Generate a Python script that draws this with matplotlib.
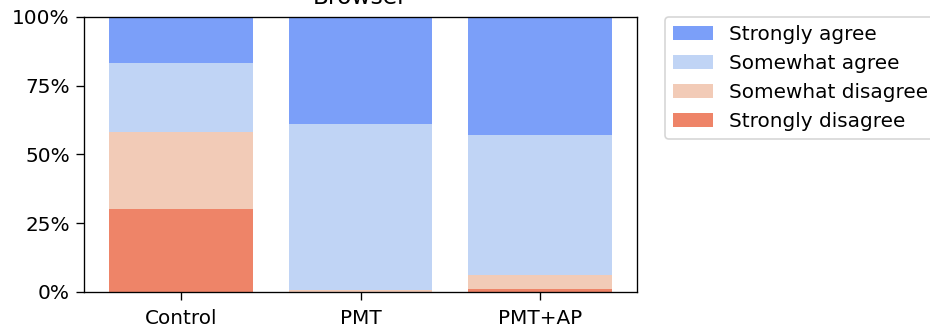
import numpy as np
import matplotlib
matplotlib.use("Agg")
import matplotlib.pyplot as plt

# survey responses, percent of participants per condition
groups = ["Control", "PMT", "PMT+AP"]
responses = ["Strongly agree", "Somewhat agree", "Somewhat disagree", "Strongly disagree"]
strongly_disagree = [30.0, 0.0, 1.2]
somewhat_disagree = [28.3, 0.6, 4.8]
somewhat_agree = [25.0, 60.4, 51.1]
strongly_agree = [16.7, 39.0, 42.9]
colors = ["#7b9ff9", "#c0d4f5", "#f2cbb7", "#ee8468"]

fig = plt.figure(figsize=(7.75, 329 / 120.0), dpi=120)
ax = fig.add_axes([0.0903, 0.1125, 0.5947, 0.836])

x = np.arange(len(groups))
# stack from the bottom: strongly disagree first
stack = [strongly_disagree, somewhat_disagree, somewhat_agree, strongly_agree]
bottom = np.zeros(len(groups))
bars = []
for vals, col in zip(stack, colors[::-1]):
    b = ax.bar(x, vals, 0.8, bottom=bottom, color=col)
    bars.append(b)
    bottom += np.array(vals)

ax.set_xticks(x)
ax.set_xticklabels(groups, fontsize=12)
ax.set_ylim(0, 100)
ax.set_yticks([0, 25, 50, 75, 100])
ax.set_yticklabels(["0%", "25%", "50%", "75%", "100%"], fontsize=12)
ax.tick_params(length=5)
ax.tick_params(axis="x", pad=5.5)
ax.set_title("Browser", fontsize=14, pad=8)

ax.legend(bars[::-1], responses, loc="upper left", bbox_to_anchor=(1.05, 1.0),
          fontsize=12, borderaxespad=0., labelspacing=0.5)

fig.savefig("out.png", dpi=120)
